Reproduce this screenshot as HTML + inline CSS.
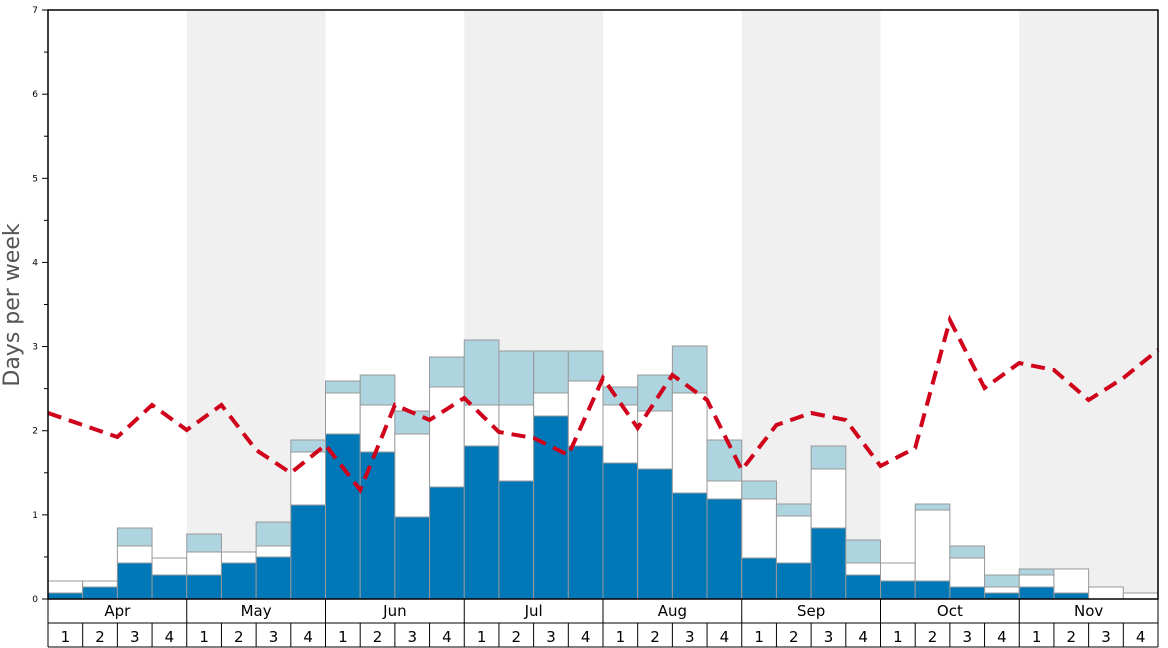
<!DOCTYPE html>
<html><head><style>body{margin:0;background:#fff}svg{display:block}</style></head><body>
<svg width="1168" height="648" xmlns="http://www.w3.org/2000/svg" font-family="DejaVu Sans, sans-serif">
<rect width="1168" height="648" fill="#fff"/>
<g id="bands" fill="#f0f0f0"></g>
<g id="bars"></g>
<polyline id="red" fill="none" stroke="#d0021b" stroke-width="4" stroke-dasharray="14,8"/>
<rect x="48" y="10" width="1110" height="589" fill="none" stroke="#000" stroke-width="1.5"/>
<g id="yax" font-size="9"></g>
<text transform="translate(19,305) rotate(-90)" text-anchor="middle" font-size="22" fill="#555">Days per week</text>
<g id="xax"></g>
<script>
var ns="http://www.w3.org/2000/svg";
function el(p,t,a,txt){var e=document.createElementNS(ns,t);for(var k in a)e.setAttribute(k,a[k]);if(txt!=null)e.textContent=txt;p.appendChild(e);return e;}
var x0=48,w=(1158-48)/32,yb=599;
var bands=document.getElementById('bands');
for(var m=1;m<8;m+=2)el(bands,'rect',{x:x0+m*4*w,y:10,width:4*w,height:589});
var d=[[593,581,0],[587,581,0],[563,546,528],[575,558,0],[575,552,534],[563,552,0],[557,546,522],[505,452,440],
[434,393,381],[452,405,375],[517,434,411],[487,387,357],[446,405,340],[481,405,351],[416,393,351],[446,381,351],
[463,405,387],[469,411,375],[493,393,346],[499,481,440],[558,499,481],[563,516,504],[528,469,446],[575,563,540],
[581,563,0],[581,510,504],[587,558,546],[593,587,575],[587,575,569],[593,569,0],[599,587,0],[599,593,0]];
var bars=document.getElementById('bars');
d.forEach(function(v,i){var x=x0+i*w;
 if(v[2])el(bars,'rect',{x:x,y:v[2],width:w,height:v[1]-v[2],fill:'#aed4e0',stroke:'#999','stroke-width':1});
 el(bars,'rect',{x:x,y:v[1],width:w,height:v[0]-v[1],fill:'#fff',stroke:'#999','stroke-width':1});
 if(v[0]<599)el(bars,'rect',{x:x,y:v[0],width:w,height:599-v[0],fill:'#0077b6',stroke:'#999','stroke-width':1});
});
var r=[413,425,437,405,430,405,450,473,445,490,405,420,398,432,438,455,378,428,375,400,470,425,413,420,466,448,320,388,363,370,400,378,350];
document.getElementById('red').setAttribute('points',r.map(function(y,i){return (x0+i*w)+','+y}).join(' '));
var ya=document.getElementById('yax');
for(var k=0;k<=7;k++){var y=599-k*84.14;el(ya,'text',{x:38,y:y+3,'text-anchor':'end'},k);
 el(ya,'line',{x1:42,x2:48,y1:y,y2:y,stroke:'#000'});
 if(k<7)el(ya,'line',{x1:44,x2:48,y1:y-42.07,y2:y-42.07,stroke:'#000'});}
var xa=document.getElementById('xax');
el(xa,'line',{x1:48,x2:1158,y1:623,y2:623,stroke:'#000'});
el(xa,'line',{x1:48,x2:1158,y1:647,y2:647,stroke:'#000'});
var mn=['Apr','May','Jun','Jul','Aug','Sep','Oct','Nov'];
for(var i=0;i<=32;i++){var x=x0+i*w;el(xa,'line',{x1:x,x2:x,y1:i%4==0?599:623,y2:647,stroke:'#000'});
 if(i<32)el(xa,'text',{x:x+w/2,y:642,'text-anchor':'middle','font-size':15},(i%4)+1);}
mn.forEach(function(m,j){el(xa,'text',{x:x0+(j*4+2)*w,y:616,'text-anchor':'middle','font-size':15},m);});
</script>
</svg>
</body></html>
